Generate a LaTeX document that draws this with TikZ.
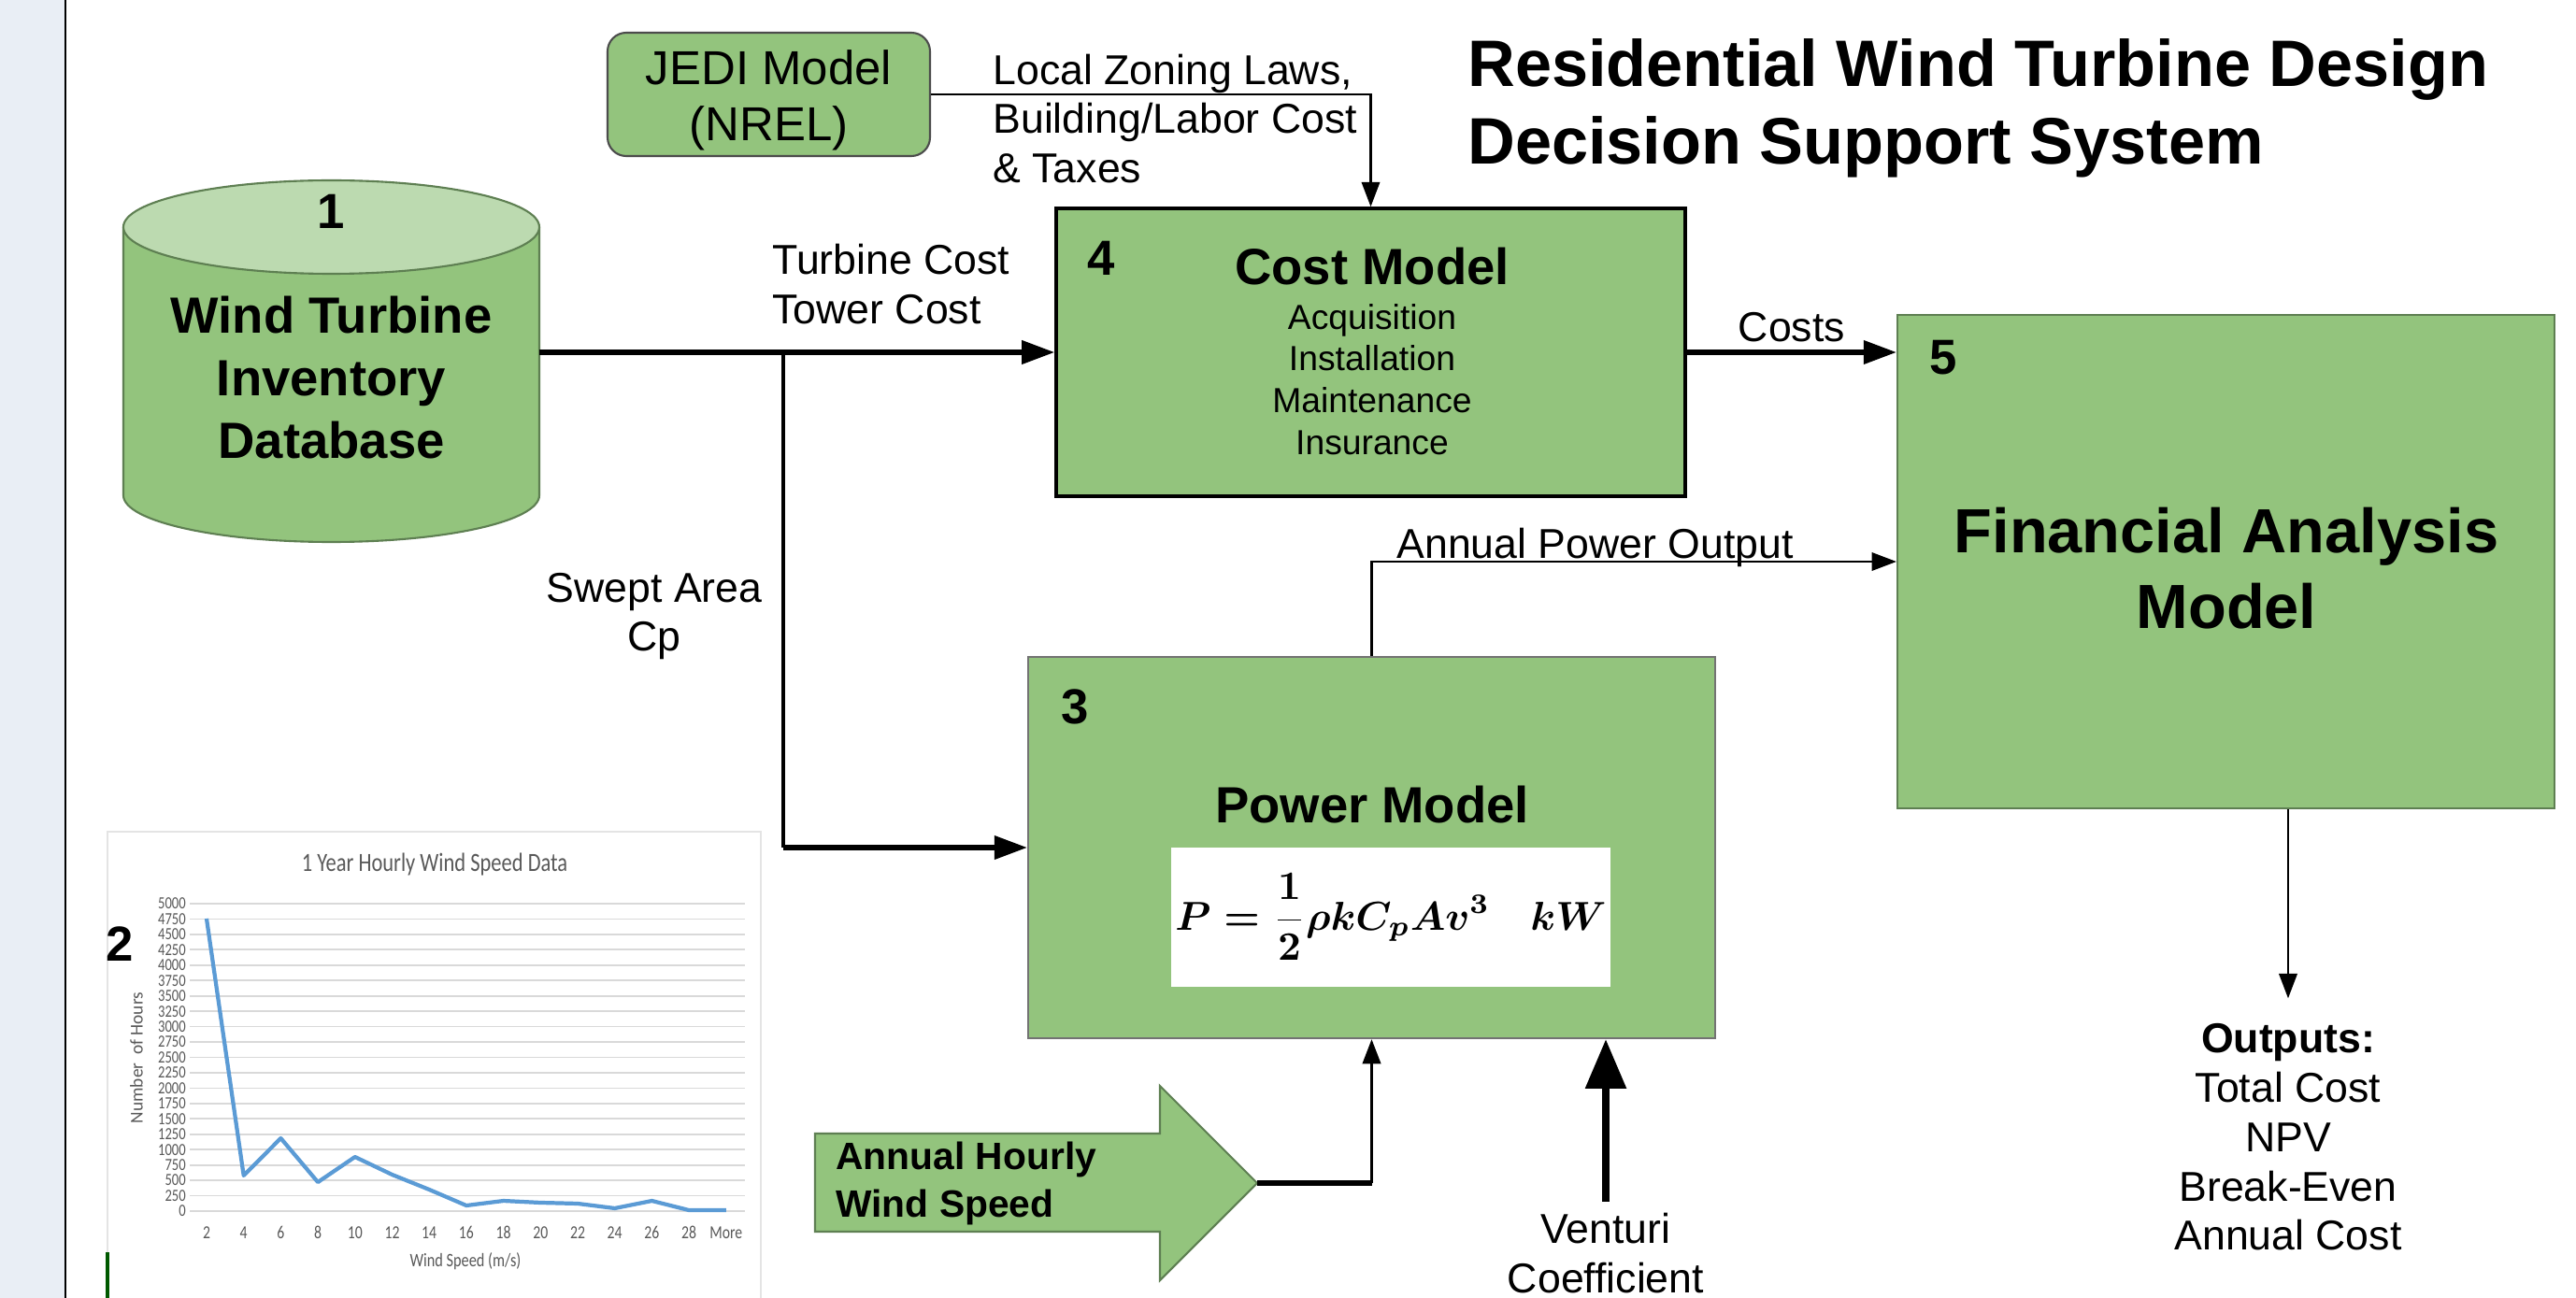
\documentclass[tikz,border=0pt]{standalone}
\usepackage{fontspec}
\setmainfont{Liberation Sans}
\newfontfamily\chartfont[FakeStretch=0.8]{Carlito}
\newfontfamily\axisfont{Carlito}
\usetikzlibrary{arrows.meta,positioning}

\definecolor{boxgreen}{HTML}{93C47D}
\definecolor{topgreen}{HTML}{BCDAB0}
\definecolor{edgegreen}{HTML}{5E7F52}
\definecolor{stripblue}{HTML}{E9EEF5}
\definecolor{chartblue}{HTML}{5B9BD5}
\definecolor{gridgray}{HTML}{D9D9D9}
\definecolor{axisgray}{HTML}{595959}

\newsavebox\lawbox

\begin{document}
\sbox\lawbox{\resizebox{4.61cm}{!}{\boldmath$\displaystyle P=\frac{1}{2}\rho kC_pAv^3\quad kW$}}
\begin{tikzpicture}[
    lab/.style={font=\fontsize{12.7}{15}\selectfont},
    num/.style={font=\bfseries\fontsize{15}{18}\selectfont},
    head/.style={font=\bfseries\fontsize{15.5}{19}\selectfont},
    model/.style={fill=boxgreen,line width=0.6pt,inner sep=0pt},
    fat/.style={line width=1.5pt,-{Triangle[length=10pt,width=7pt]}},
    slim/.style={line width=0.7pt,-{Triangle[length=7.5pt,width=5.5pt]}},
    axtick/.style={text=axisgray,inner sep=1pt}]

\useasboundingbox (0,0) rectangle (27.56,-13.89);
\fill[white] (0,0) rectangle (27.56,-13.89);
\fill[stripblue] (0,0) rectangle (0.69,-13.89);
\draw[line width=0.8pt] (0.70,0) -- (0.70,-13.89);

% database cylinder
\fill[boxgreen,draw=edgegreen,line width=0.6pt] (1.32,-2.43) -- (1.32,-5.30)
    arc[start angle=180,end angle=360,x radius=2.225,y radius=0.50] -- (5.77,-2.43);
\filldraw[fill=topgreen,draw=edgegreen,line width=0.6pt] (3.545,-2.43) ellipse[x radius=2.225,y radius=0.50];
\node[num] (n1) at (3.545,-2.26) {1};
\node[head,align=center] (db) at (3.545,-4.04) {Wind Turbine\\Inventory\\Database};
\coordinate (dbout) at (5.77,-3.77);

% title
\node[anchor=west,align=left,font=\bfseries\fontsize{20}{23.6}\selectfont] (title) at (15.58,-1.16)
    {Residential Wind Turbine Design\\Decision Support System};

% JEDI
\node[model,draw=black!70,rounded corners=0.2cm,minimum width=3.45cm,minimum height=1.32cm] (jedi) at (8.225,-1.01) {};
\node[align=center,font=\fontsize{14.5}{17}\selectfont] (jeditx) at (8.225,-1.07) {JEDI Model\\(NREL)};
\node[lab,anchor=west,align=left] (laws) at (10.50,-1.27) {Local Zoning Laws,\\Building/Labor Cost\\\& Taxes};

% cost model
\node[model,draw=black,line width=1pt,minimum width=6.73cm,minimum height=3.08cm] (cost) at (14.665,-3.77) {};
\node[num] (n4) at (11.78,-2.76) {4};
\node[head] (costhd) at (14.68,-2.85) {Cost Model};
\node[align=center,font=\fontsize{10.6}{12.7}\selectfont] (costls) at (14.68,-4.06)
    {Acquisition\\Installation\\Maintenance\\Insurance};

% power model
\node[model,draw=black!55,minimum width=7.35cm,minimum height=4.08cm] (power) at (14.675,-9.07) {};
\node[num] (n3) at (11.50,-7.56) {3};
\node[head] (powhd) at (14.68,-8.61) {Power Model};
\node[fill=white,inner sep=0pt,minimum width=4.70cm,minimum height=1.49cm] (law) at (14.88,-9.815) {\usebox\lawbox};

% financial model
\node[model,draw=edgegreen,minimum width=7.03cm,minimum height=5.28cm] (fin) at (23.815,-6.01) {};
\node[num] (n5) at (20.79,-3.83) {5};
\node[align=center,font=\bfseries\fontsize{19}{23}\selectfont] (finhd) at (23.82,-6.085) {Financial Analysis\\Model};

% inputs
\node[lab,anchor=west,align=left] (tcost) at (8.14,-3.04) {Turbine Cost\\Tower Cost};
\node[lab,align=center] (swept) at (7.00,-6.595) {Swept Area\\Cp};
\coordinate (split) at (8.38,-3.77);

\draw[fill=boxgreen,draw=edgegreen,line width=0.6pt] (8.72,-12.13) -- (12.41,-12.13) -- (12.41,-11.62)
    -- (13.45,-12.66) -- (12.41,-13.70) -- (12.41,-13.18) -- (8.72,-13.18) -- cycle;
\coordinate (windtip) at (13.45,-12.66);
\node[anchor=west,align=left,font=\bfseries\fontsize{11.6}{14.5}\selectfont] (wind) at (8.82,-12.665) {Annual Hourly\\Wind Speed};
\node[lab,align=center] (venturi) at (17.18,-13.41) {Venturi\\Coefficient};
\node[lab,align=center] (outputs) at (24.48,-12.17) {\textbf{Outputs:}\\Total Cost\\NPV\\Break-Even\\Annual Cost};

% connectors
\draw[fat] (dbout) -- (cost.west);
\draw[line width=0.9pt] (split) -- (split |- power.west);
\draw[fat] (split |- power.west) -- (power.west);
\draw[slim] (jedi.east) -| (cost.north);
\draw[fat] (cost.east) -- (cost.east -| fin.west) node[lab,midway,above=-1pt] (costs) {Costs};
\draw[slim] (power.north) |- (fin.west);
\node[lab,anchor=base west] (apo) at (14.82,-5.98) {Annual Power Output};
\draw[line width=1.5pt] (windtip) -- (windtip -| power.south);
\draw[line width=0.9pt,-{Triangle[length=7.5pt,width=5.5pt]}] (windtip -| power.south) -- (power.south);
\draw[line width=2.3pt,-{Triangle[length=15pt,width=12pt]}] (venturi.north) -- (venturi.north |- power.south);
\draw[slim,shorten >=0.15cm] (outputs.north |- fin.south) -- (outputs.north);

% wind speed chart
\draw[gridgray!70,fill=white] (1.15,-8.90) rectangle (8.14,-14.2);
\draw[green!35!black,line width=0.9pt] (1.15,-13.40) -- (1.15,-13.89);
\node[axtick,font=\chartfont\fontsize{8}{9}\selectfont] (ctitle) at (4.65,-9.25) {1 Year Hourly Wind Speed Data};
\begin{scope}[shift={(2.21,-12.96)},x=0.397cm,y=0.658cm]
  \foreach \v in {0,250,...,5000}
    \draw[gridgray,line width=0.5pt] (-0.45,\v/1000) -- (14.5,\v/1000) node[axtick,pos=0,anchor=east,font=\chartfont\fontsize{5.2}{6}\selectfont] {\v};
  \foreach \lab [count=\n from 0] in {2,4,6,8,10,12,14,16,18,20,22,24,26,28,More}
    \node[axtick,font=\chartfont\fontsize{5.6}{6}\selectfont] (x\n) at (\n,-0.35) {\lab};
  \draw[chartblue,line width=1.2pt,line join=round] plot coordinates {(0,4.757) (1,0.578) (2,1.185) (3,0.471)
    (4,0.881) (5,0.593) (6,0.350) (7,0.091) (8,0.167) (9,0.137) (10,0.122) (11,0.046) (12,0.167) (13,0.015) (14,0.015)};
\end{scope}
\node[axtick,font=\chartfont\fontsize{5.8}{6}\selectfont] (xlab) at (4.98,-13.50) {Wind Speed (m/s)};
\node[axtick,rotate=90,font=\axisfont\fontsize{5.5}{6}\selectfont] (ylab) at (1.46,-11.32) {Number \ of Hours};
\node[num] (n2) at (1.28,-10.10) {2};
\end{tikzpicture}
\end{document}
